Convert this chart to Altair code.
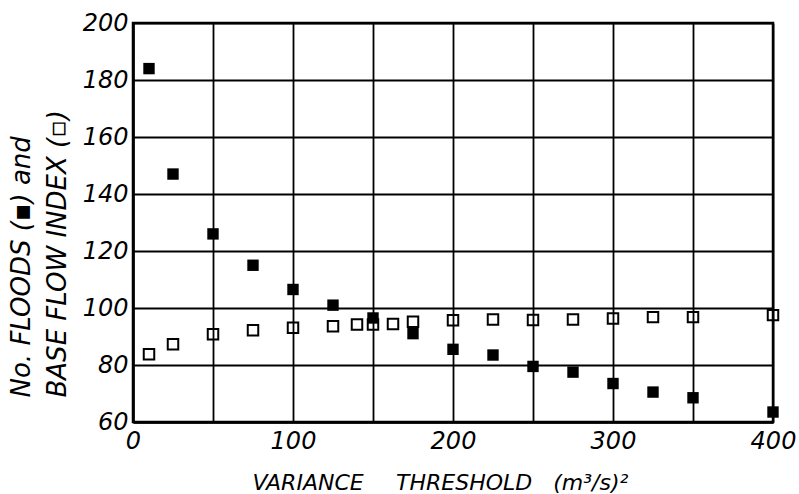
import altair as alt
import pandas as pd

# Number of floods (filled squares)
flood_x = [10, 25, 50, 75, 100, 125, 150, 175, 200, 225, 250, 275, 300, 325, 350, 400]
flood_y = [184, 147, 126, 115, 106.5, 101, 96.5, 91, 85.5, 83.5, 79.5, 77.5, 73.5, 70.5, 68.5, 63.5]

# Base flow index (open squares)
bfi_x = [10, 25, 50, 75, 100, 125, 140, 150, 162.5, 175, 200, 225, 250, 275, 300, 325, 350, 400]
bfi_y = [83.8, 87.3, 90.8, 92.2, 93.1, 93.6, 94.2, 94.2, 94.4, 95.2, 95.7, 96, 95.8, 96, 96.3, 96.8, 96.8, 97.5]

x_grid = [0, 50, 100, 150, 200, 250, 300, 350, 400]
y_grid = [60, 80, 100, 120, 140, 160, 180, 200]

x_title = "VARIANCE\u00a0\u00a0\u00a0\u00a0\u2009THRESHOLD\u00a0\u00a0\u00a0(m\u00b3/s)\u00b2"
y_title = ["No. FLOODS (\u25aa) and", "BASE FLOW INDEX (\u25ab)"]

flood_df = pd.DataFrame({"x": flood_x, "y": flood_y})
bfi_df = pd.DataFrame({"x": bfi_x, "y": bfi_y})

FONT = "DejaVu Sans"

x_enc = alt.X(
    "x:Q",
    scale=alt.Scale(domain=[0, 400], nice=False, zero=False),
    axis=alt.Axis(
        values=x_grid,
        labelExpr="datum.value % 100 == 0 ? datum.label : ''",
        title=x_title,
        grid=True,
        gridColor="black",
        gridWidth=1.8,
        gridOpacity=1,
        ticks=False,
        domainColor="black",
        domainWidth=2.5,
        labelFont=FONT,
        labelFontStyle="italic",
        labelFontSize=24,
        labelColor="black",
        labelPadding=7,
        labelFlush=False,
        titleFont=FONT,
        titleFontStyle="italic",
        titleFontWeight="normal",
        titleFontSize=22,
        titleColor="black",
        titleAlign="left",
        titleBaseline="alphabetic",
        titleX=119,
        titleY=67,
    ),
)

y_enc = alt.Y(
    "y:Q",
    scale=alt.Scale(domain=[60, 200], nice=False, zero=False),
    axis=alt.Axis(
        values=y_grid,
        title=y_title,
        grid=True,
        gridColor="black",
        gridWidth=1.8,
        gridOpacity=1,
        ticks=False,
        domainColor="black",
        domainWidth=2.5,
        labelFont=FONT,
        labelFontStyle="italic",
        labelFontSize=24,
        labelColor="black",
        labelPadding=5,
        labelFlush=False,
        titleFont=FONT,
        titleFontStyle="italic",
        titleFontWeight="normal",
        titleFontSize=26,
        titleColor="black",
        titleAngle=270,
        titleAlign="left",
        titleBaseline="alphabetic",
        titleLineHeight=36,
        titleX=-104,
        titleY=374,
    ),
)

floods = alt.Chart(flood_df).mark_point(
    shape="square", filled=True, color="black", size=130, opacity=1
).encode(x=x_enc, y=y_enc)

bfi = alt.Chart(bfi_df).mark_point(
    shape="square", filled=False, color="black", size=110, strokeWidth=2, opacity=1
).encode(x=x_enc, y=y_enc)

chart = (
    alt.layer(floods, bfi)
    .properties(
        width=640,
        height=399,
        autosize=alt.AutoSizeParams(type="none"),
        padding={"left": 133, "top": 23, "right": 26, "bottom": 72},
        background="white",
    )
    .configure_view(stroke="black", strokeWidth=2.5)
)

chart.save("out.html", embed_options={"renderer": "svg", "actions": False})
